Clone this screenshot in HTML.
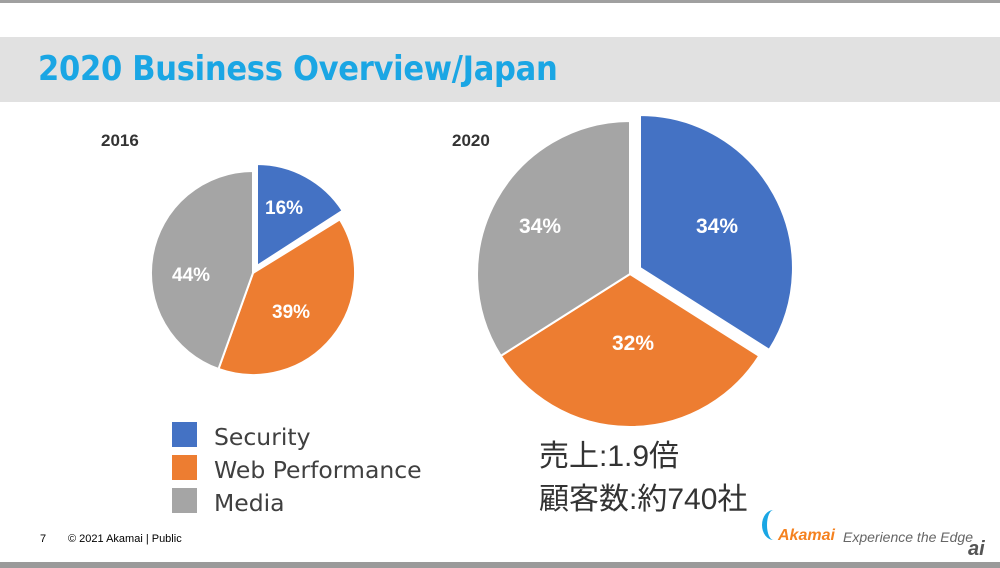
<!DOCTYPE html>
<html><head><meta charset="utf-8"><style>
body{margin:0;width:1000px;height:568px;background:#fff;position:relative;overflow:hidden;font-family:"Liberation Sans","Noto Sans CJK JP",sans-serif}
.t{position:absolute;white-space:nowrap}
</style></head><body>
<div style="position:absolute;left:0;top:0;width:1000px;height:3px;background:#a0a0a0"></div>
<div style="position:absolute;left:0;top:37px;width:1000px;height:65px;background:#e1e1e1"></div>
<div class="t" style="left:38px;top:49px;font-size:34px;font-weight:bold;color:#1aa6e4;font-family:'DejaVu Sans Condensed','DejaVu Sans',sans-serif;letter-spacing:-0.3px">2020 Business Overview/Japan</div>
<div class="t" style="left:101px;top:131px;font-size:17px;font-weight:bold;color:#333">2016</div>
<div class="t" style="left:452px;top:131px;font-size:17px;font-weight:bold;color:#333">2020</div>
<svg width="1000" height="568" style="position:absolute;left:0;top:0">
<g stroke="#fff" stroke-width="2">
<path d="M257,266 L257,164 A102,102 0 0 1 342.6,210.7 Z" fill="#4472c4"/>
<path d="M253,273 L339.8,219.4 A102,102 0 0 1 218.5,369 Z" fill="#ed7d31"/>
<path d="M253,273 L218.5,369 A102,102 0 0 1 253,171 Z" fill="#a5a5a5"/>
<path d="M640,268 L640,115 A153,153 0 0 1 769.2,349.9 Z" fill="#4472c4"/>
<path d="M630,274 L759.2,355.9 A153,153 0 0 1 500.8,355.9 Z" fill="#ed7d31"/>
<path d="M630,274 L500.8,355.9 A153,153 0 0 1 630,121 Z" fill="#a5a5a5"/>
</g>
<g fill="#fff" font-family="Liberation Sans,sans-serif" font-weight="bold" font-size="19">
<text x="265" y="214">16%</text>
<text x="172" y="281">44%</text>
<text x="272" y="318">39%</text>
<text x="519" y="233" font-size="21">34%</text>
<text x="696" y="233" font-size="21">34%</text>
<text x="612" y="350" font-size="21">32%</text>
</g>
</svg>
<div style="position:absolute;left:172px;top:422px;width:25px;height:25px;background:#4472c4"></div>
<div style="position:absolute;left:172px;top:455px;width:25px;height:25px;background:#ed7d31"></div>
<div style="position:absolute;left:172px;top:488px;width:25px;height:25px;background:#a5a5a5"></div>
<div class="t" style="left:214px;top:423px;font-size:23.5px;color:#404040;font-family:'DejaVu Sans',sans-serif">Security</div>
<div class="t" style="left:214px;top:456px;font-size:23.5px;color:#404040;font-family:'DejaVu Sans',sans-serif">Web Performance</div>
<div class="t" style="left:214px;top:489px;font-size:23.5px;color:#404040;font-family:'DejaVu Sans',sans-serif">Media</div>
<div class="t" style="left:539px;top:431px;font-size:30px;color:#333">売上:1.9倍</div>
<div class="t" style="left:539px;top:474px;font-size:30px;color:#333">顧客数:約740社</div>
<div class="t" style="left:40px;top:533px;font-size:11px;color:#000">7</div>
<div class="t" style="left:68px;top:533px;font-size:11px;color:#000">© 2021 Akamai | Public</div>
<div class="t" style="left:762px;top:510px;width:18px;height:30px;border-left:5px solid #1aa6e4;border-radius:50% 0 0 50%"></div>
<div class="t" style="left:778px;top:527px;font-size:16px;font-weight:bold;font-style:italic;color:#f58220">Akamai</div>
<div class="t" style="left:843px;top:529px;font-size:14px;font-style:italic;color:#666">Experience the Edge</div>
<div class="t" style="left:968px;top:538px;font-size:20px;font-style:italic;font-weight:bold;color:#555">ai</div>
<div style="position:absolute;left:0;top:562px;width:1000px;height:6px;background:#9a9a9a"></div>
</body></html>
